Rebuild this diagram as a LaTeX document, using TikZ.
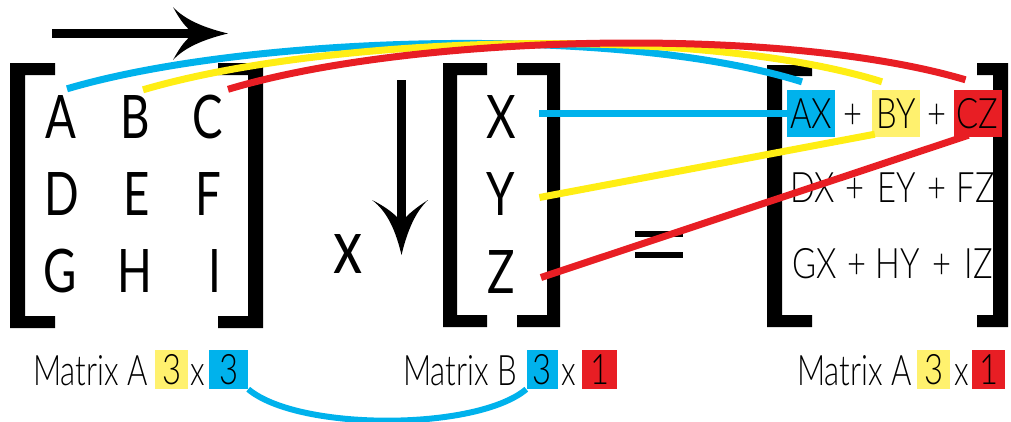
\documentclass[tikz,border=0pt]{standalone}
\usepackage{fontspec}
\setmainfont{Lato}[UprightFont=* Light, FakeStretch=0.78]
\newfontfamily\labfont{Lato}[UprightFont=* Light, FakeStretch=0.74]
\newfontfamily\bigfont{Lato}[FakeStretch=0.76]
\definecolor{cy}{RGB}{0,178,236}
\definecolor{yl}{RGB}{255,238,20}
\definecolor{ylbox}{RGB}{255,241,110}
\definecolor{rd}{RGB}{232,30,36}
\begin{document}
\begin{tikzpicture}[x=1pt,y=-1pt,
  big/.style={font=\bigfont\fontsize{60}{72}\selectfont, inner sep=0pt, anchor=base},
  med/.style={font=\fontsize{42}{50}\selectfont, inner sep=0pt, anchor=base},
  lab/.style={font=\labfont\fontsize{42}{50}\selectfont, inner sep=0pt, anchor=base},
  hl/.style={med, anchor=center, minimum width=#1, minimum height=39pt},
  rbox/.style={med, anchor=center, minimum width=48pt, minimum height=47pt},
  link/.style={line width=7pt},
  brk/.style={fill=black}]
\useasboundingbox (0,0) rectangle (1011,421);

% brackets
\fill[brk] (10,63)--(55,63)--(55,75)--(25,75)--(25,316)--(55,316)--(55,328)--(10,328)--cycle;
\fill[brk] (263,63)--(218,63)--(218,75)--(248,75)--(248,316)--(218,316)--(218,328)--(263,328)--cycle;
\fill[brk] (443,63)--(487,63)--(487,75)--(457,75)--(457,315)--(487,315)--(487,327)--(443,327)--cycle;
\fill[brk] (560,63)--(517,63)--(517,75)--(547,75)--(547,315)--(517,315)--(517,327)--(560,327)--cycle;
\fill[brk] (767,65)--(812,65)--(812,76)--(782,76)--(782,315)--(812,315)--(812,327)--(767,327)--cycle;
\fill[brk] (1008,63)--(977,63)--(977,75)--(993,75)--(993,315)--(977,315)--(977,327)--(1008,327)--cycle;

% arrows
\fill[brk] (52,29) rectangle (200,38);
\fill[brk] (228,33.5) .. controls (205,28) and (185,20) .. (173,7)
  .. controls (180,20) and (186,28) .. (194,33.5)
  .. controls (186,39) and (180,47) .. (173,60)
  .. controls (185,47) and (205,39) .. (228,33.5) -- cycle;
\fill[brk] (397,80) rectangle (406,225);
\fill[brk] (401.5,255) .. controls (396,232) and (388,212) .. (372,200)
  .. controls (386,207) and (395,214) .. (401.5,222)
  .. controls (408,214) and (417,207) .. (428,200)
  .. controls (415,212) and (407,232) .. (401.5,255) -- cycle;

% matrix A
\node[big] (nA) at (61,138) {A};
\node[big] (nB) at (135,138) {B};
\node[big] (nC) at (208,138) {C};
\node[big] (nD) at (62,215) {D};
\node[big] (nE) at (137,215) {E};
\node[big] (nF) at (208,215) {F};
\node[big] (nG) at (60,292) {G};
\node[big] (nH) at (135,292) {H};
\node[big] (nI) at (215,292) {I};

% multiply sign
\node[font=\bigfont\fontsize{77}{80}\selectfont, inner sep=0pt, anchor=base] (times) at (348,273) {x};

% matrix B
\node[big] (nX) at (501,138) {X};
\node[big] (nY) at (501,215) {Y};
\node[big] (nZ) at (501,293) {Z};

% equals sign
\fill[brk] (635,231) rectangle (683,237);
\fill[brk] (635,252) rectangle (683,258);

% result
\node[rbox, fill=cy] (AX) at (811,113.5) {AX};
\node[med] (p1) at (853,128) {+};
\node[rbox, fill=ylbox] (BY) at (896,113.5) {BY};
\node[med] (p2) at (937,128) {+};
\node[rbox, fill=rd] (CZ) at (977.5,113.5) {CZ};

\node[med] (DX) at (813,202) {DX};
\node[med] (p3) at (855,202) {+};
\node[med] (EY) at (897,202) {EY};
\node[med] (p4) at (937,202) {+};
\node[med] (FZ) at (976,202) {FZ};

\node[med] (GX) at (815,278) {GX};
\node[med] (p5) at (857,278) {+};
\node[med] (HY) at (898,278) {HY};
\node[med] (p6) at (942,278) {+};
\node[med] (IZ) at (979,278) {IZ};

% labels
\node[lab, anchor=base west] (labA) at (33,385) {Matrix A};
\node[hl=33pt, fill=ylbox] (a3r) at (171.5,369.5) {3};
\node[lab] (ax) at (198,385) {x};
\node[hl=39pt, fill=cy] (a3c) at (228.5,369.5) {3};

\node[lab, anchor=base west] (labB) at (403,385) {Matrix B};
\node[hl=31pt, fill=cy] (b3r) at (542,369.5) {3};
\node[lab] (bx) at (569,385) {x};
\node[hl=35pt, fill=rd] (b1c) at (599.5,369.5) {1};

\node[lab, anchor=base west] (labC) at (797,385) {Matrix A};
\node[hl=33pt, fill=ylbox] (c3r) at (933.5,369.5) {3};
\node[lab] (cx) at (962,385) {x};
\node[hl=33pt, fill=rd] (c1c) at (988.5,369.5) {1};

% arcs from row A,B,C to result
\draw[link, cy] ([shift={(6,-6)}]nA.north) .. controls +(183,-54) and +(-182,-57) .. ([shift={(-9,-8)}]AX.north);
\draw[link, yl] ([shift={(8,-5)}]nB.north) .. controls +(187,-55) and +(-182,-57) .. ([shift={(-14,-8)}]BY.north);
\draw[link, rd] ([shift={(20,-5)}]nC.north) .. controls +(182,-55) and +(-185,-55) .. ([shift={(-12,-10)}]CZ.north);

% lines from column B to result
\draw[link, cy] ([xshift=23pt]nX.east |- AX.west) -- (AX.west);
\draw[link, yl] ([shift={(24,4)}]nY.east) -- ([shift={(3,-3)}]BY.south west);
\draw[link, rd] ([shift={(26,6)}]nZ.east) -- ([shift={(-9,-2)}]CZ.south);

% bottom arc
\draw[line width=6pt, cy] (a3c.south east) .. controls +(50,42) and +(-50,42) .. (b3r.south west);
\end{tikzpicture}
\end{document}
